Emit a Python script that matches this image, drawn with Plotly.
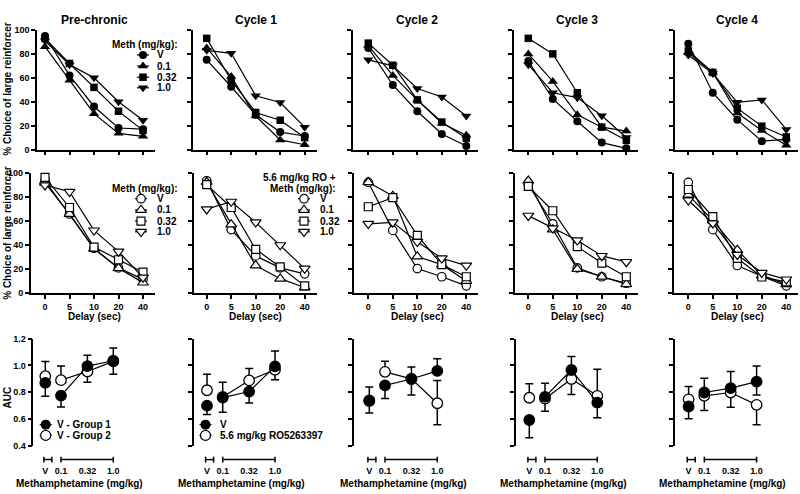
import math
import plotly.graph_objects as go

# ---------------- data ----------------
cycles = ["Pre-chronic", "Cycle 1", "Cycle 2", "Cycle 3", "Cycle 4"]
delays = ["0", "5", "10", "20", "40"]
meth_doses = ["V", "0.1", "0.32", "1.0"]
auc_doses = ["V", "0.1", "0.32", "1.0"]

# % choice of large reinforcer, methamphetamine alone (top row, filled symbols)
choice_meth_pre = {"V": [95, 62, 36, 18, 17], "0.1": [86, 58, 30, 13.5, 11],
                   "0.32": [93, 72, 52, 32, 16], "1.0": [91, 71, 60, 40, 24.5]}
choice_meth_c1 = {"V": [75, 52.5, 29, 14.6, 11.3], "0.1": [85, 61, 28, 8, 4],
                  "0.32": [93, 58, 31, 24.5, 10], "1.0": [83, 80.5, 45, 39.3, 18.7]}
choice_meth_c2 = {"V": [85, 54, 32, 13, 3], "0.1": [87, 62, 41.5, 22, 12],
                  "0.32": [89, 70.5, 41.5, 23, 9.5], "1.0": [75, 70, 51, 44, 28]}
choice_meth_c3 = {"V": [74, 42.3, 23.6, 5.8, 1], "0.1": [80, 57, 29, 18.7, 15.4],
                  "0.32": [93, 80, 47.5, 18.7, 7.7], "1.0": [71, 47.5, 43.4, 28.3, 10]}
choice_meth_c4 = {"V": [88.5, 47.5, 25, 7, 8.5], "0.1": [81, 64.5, 30.5, 16, 3.6],
                  "0.32": [82.5, 64.5, 34.6, 19.5, 10.5], "1.0": [79, 63.5, 39.5, 41.5, 16.8]}

# middle row (open symbols): group 2 pre-chronic / RO5263397 + meth
choice_ro_pre = {"V": [93.7, 66, 37.3, 21, 11.4], "0.1": [92, 66, 37, 20.7, 8.7],
                 "0.32": [96.5, 71.4, 38.4, 27.8, 17.4], "1.0": [90, 84.5, 52.3, 34.6, 13]}
choice_ro_c1 = {"V": [93.7, 53, 31, 21, 16], "0.1": [92.6, 57.2, 23, 12, 4.6],
                "0.32": [90.5, 71.4, 36.5, 21.8, 6], "1.0": [70, 76.3, 59, 40, 20.4]}
choice_ro_c2 = {"V": [92.4, 52.3, 20.4, 13.6, 6], "0.1": [92.4, 81, 30.5, 23.7, 10],
                "0.32": [72, 79.6, 48.2, 23.7, 13.6], "1.0": [57.8, 59, 42.8, 29, 22.9]}
choice_ro_c3 = {"V": [90.5, 57.8, 21, 13.6, 8.2], "0.1": [93.7, 53, 20, 13.6, 7.4],
                "0.32": [89, 68.7, 38.7, 25, 13.6], "1.0": [64.6, 54, 44, 31, 26]}
choice_ro_c4 = {"V": [92.4, 52.9, 23, 14, 6], "0.1": [82, 60.5, 36, 14.7, 7.4],
                "0.32": [86.4, 63.8, 29, 13.4, 9.3], "1.0": [77.4, 58.3, 32, 17, 11.4]}

# AUC (bottom row), one row per cycle, columns follow auc_doses
auc_filled_mean = [[0.87, 0.775, 0.995, 1.035], [0.70, 0.76, 0.805, 0.993],
                   [0.735, 0.851, 0.899, 0.959], [0.593, 0.766, 0.966, 0.723],
                   [0.694, 0.798, 0.831, 0.879]]
auc_filled_err_up = [[0, 0, 0.08, 0.095], [0, 0, 0, 0.115],
                     [0, 0, 0.089, 0.091], [0, 0.101, 0.101, 0],
                     [0, 0.106, 0.123, 0.116]]
auc_filled_err_down = [[0.10, 0.085, 0, 0], [0.065, 0.11, 0.085, 0],
                       [0.09, 0.097, 0, 0], [0.133, 0, 0, 0.113],
                       [0.092, 0, 0, 0.10]]
auc_open_mean = [[0.92, 0.89, 0.955, 1.03], [0.815, 0.765, 0.888, 0.968],
                 [0.74, 0.952, 0.90, 0.718], [0.759, 0.752, 0.899, 0.773],
                 [0.747, 0.773, 0.798, 0.706]]
auc_open_err_up = [[0.11, 0.105, 0, 0], [0.12, 0.11, 0.09, 0],
                   [0.10, 0.079, 0, 0.169], [0.104, 0, 0, 0.198],
                   [0.096, 0, 0, 0]]
auc_open_err_down = [[0, 0, 0.08, 0.095], [0, 0, 0, 0.075],
                     [0, 0, 0.121, 0.161], [0, 0.094, 0.116, 0],
                     [0, 0.11, 0.109, 0.149]]

choice_meth = [choice_meth_pre, choice_meth_c1, choice_meth_c2, choice_meth_c3, choice_meth_c4]
choice_ro = [choice_ro_pre, choice_ro_c1, choice_ro_c2, choice_ro_c3, choice_ro_c4]

# ---------------- layout geometry (pixels) ----------------
W, H = 800, 494
def fx(p): return p / W
def fy(p): return 1 - p / H

top_axis_px = [37, 193, 353, 514, 675]
mid_axis_px = [30.7, 194, 354, 515, 674]
cat_first_px = [45, 206.7, 368.3, 528.3, 688.3]
cat_step = 24.5
cat_tail = 12
bot_axis_px = [33.3, 194, 354, 515.7, 675]
bot_first_px = [61, 222.7, 385, 545, 704.3]
decade_px = 52.3
v_gap_px = 15.7
bot_tail = 15
row_px = {"top": (147.5, 25.5), "mid": (294, 171.7), "bot": (450, 340.5)}
bracket_y = 464

V_POS = -1 - v_gap_px / decade_px
dose_pos = [V_POS if d == "V" else math.log10(float(d)) for d in auc_doses]

FONT = "Liberation Sans, Arial, sans-serif"
def font(size):
    return dict(family=FONT, size=size, color="black", weight="bold")

symbols = {"V": "circle", "0.1": "triangle-up", "0.32": "square", "1.0": "triangle-down"}
msize = {"V": 8, "0.1": 9, "0.32": 7.5, "1.0": 9}

fig = go.Figure()
layout = {}
annotations = []
shapes = []

axis_common = dict(showline=True, linecolor="black", linewidth=1.5, ticks="outside",
                   ticklen=4, tickwidth=1.5, tickcolor="black", showgrid=False,
                   zeroline=False, tickfont=font(9), fixedrange=True)

n = len(delays)
for r, row in enumerate(["top", "mid", "bot"]):
    for c in range(5):
        k = r * 5 + c + 1
        xa, ya = f"xaxis{k}", f"yaxis{k}"
        yb, yt = row_px[row]
        if row in ("top", "mid"):
            ax_px = (top_axis_px if row == "top" else mid_axis_px)[c]
            first = cat_first_px[c]
            end = first + (n - 1) * cat_step + cat_tail
            layout[xa] = dict(axis_common, type="category", categoryarray=delays,
                              domain=[fx(ax_px), fx(end)], anchor=f"y{k}",
                              range=[-(first - ax_px) / cat_step, (n - 1) + cat_tail / cat_step],
                              showticklabels=(row == "mid"))
            layout[ya] = dict(axis_common, domain=[fy(yb), fy(yt)], anchor=f"x{k}",
                              range=[0, 100], tickvals=[0, 20, 40, 60, 80, 100],
                              showticklabels=(c == 0))
        else:
            ax_px = bot_axis_px[c]
            first = bot_first_px[c]
            end = first + decade_px + bot_tail
            layout[xa] = dict(axis_common, domain=[fx(ax_px), fx(end)], anchor="free",
                              position=fy(bracket_y), showline=False, ticklen=3,
                              tickcolor="rgba(0,0,0,0)",
                              range=[-1 - (first - ax_px) / decade_px, bot_tail / decade_px],
                              tickvals=dose_pos, ticktext=auc_doses)
            layout[ya] = dict(axis_common, domain=[fy(yb), fy(yt)], anchor=f"x{k}",
                              range=[0.4, 1.2], tickvals=[0.4, 0.6, 0.8, 1.0, 1.2],
                              ticktext=["0.4", "0.6", "0.8", "1.0", "1.2"],
                              showticklabels=(c == 0))

# ---------------- traces: top & middle ----------------
for c in range(5):
    for r, data, filled in ((0, choice_meth[c], True), (1, choice_ro[c], False)):
        k = r * 5 + c + 1
        for d in meth_doses:
            fig.add_trace(go.Scatter(
                x=delays, y=data[d], xaxis=f"x{k}", yaxis=f"y{k}",
                mode="lines+markers", cliponaxis=False, showlegend=False,
                line=dict(color="black", width=1.2),
                marker=dict(symbol=symbols[d], size=msize[d] + (0 if filled else 0.5),
                            color="black" if filled else "white",
                            line=dict(color="black", width=0 if filled else 1.2))))

# ---------------- traces: bottom AUC ----------------
def auc_traces(k, mean, up, dn, filled):
    mk = dict(symbol="circle", size=10.5, color="black" if filled else "white",
              line=dict(color="black", width=1.3))
    eb = lambda a, b: dict(type="data", symmetric=False, array=a, arrayminus=b,
                           color="black", thickness=1.5, width=4)
    fig.add_trace(go.Scatter(x=dose_pos[:1], y=mean[:1], xaxis=f"x{k}", yaxis=f"y{k}",
                             mode="markers", marker=mk, error_y=eb(up[:1], dn[:1]),
                             cliponaxis=False, showlegend=False))
    fig.add_trace(go.Scatter(x=dose_pos[1:], y=mean[1:], xaxis=f"x{k}", yaxis=f"y{k}",
                             mode="lines+markers", marker=mk, line=dict(color="black", width=1.2),
                             error_y=eb(up[1:], dn[1:]), cliponaxis=False, showlegend=False))

for c in range(5):
    k = 10 + c + 1
    auc_traces(k, auc_open_mean[c], auc_open_err_up[c], auc_open_err_down[c], False)
    auc_traces(k, auc_filled_mean[c], auc_filled_err_up[c], auc_filled_err_down[c], True)
    # broken x-axis brackets
    segs = [(dose_pos[0] - 1.4 / decade_px, dose_pos[0] + 6.6 / decade_px),
            (dose_pos[1], dose_pos[-1])]
    for x0, x1 in segs:
        shapes.append(dict(type="line", xref=f"x{k}", yref="paper", x0=x0, x1=x1,
                           y0=fy(bracket_y), y1=fy(bracket_y), line=dict(color="black", width=1.5)))
        for xe in (x0, x1):
            shapes.append(dict(type="line", xref=f"x{k}", yref="paper", x0=xe, x1=xe,
                               y0=fy(bracket_y - 3), y1=fy(bracket_y + 3),
                               line=dict(color="black", width=1.5)))
    annotations.append(dict(text="Methamphetamine (mg/kg)", xref=f"x{k}", yref="paper",
                            x=(dose_pos[0] + dose_pos[-1]) / 2, y=fy(488), showarrow=False,
                            xanchor="center", yanchor="middle", font=font(10)))

# ---------------- titles ----------------
for c, name in enumerate(cycles):
    annotations.append(dict(text=name, xref=f"x{c + 1}", yref="paper", x=2, y=fy(15.7),
                            showarrow=False, xanchor="center", yanchor="middle", font=font(12)))
    annotations.append(dict(text="Delay (sec)", xref=f"x{5 + c + 1}", yref="paper", x=2, y=fy(318),
                            showarrow=False, xanchor="center", yanchor="middle", font=font(10)))

for ytxt, ypx in (("% Choice of large reinforcer", 86), ("% Choice of large reinforcer", 233),
                  ("AUC", 401)):
    annotations.append(dict(text=ytxt, xref="paper", yref="paper", x=fx(7.5), y=fy(ypx),
                            textangle=-90, showarrow=False, xanchor="center", yanchor="middle",
                            font=font(10)))

# ---------------- manual legends ----------------
layout["xaxis16"] = dict(domain=[0, 1], range=[0, W], visible=False, fixedrange=True, anchor="y16")
layout["yaxis16"] = dict(domain=[0, 1], range=[H, 0], visible=False, fixedrange=True, anchor="x16")

def text_at(txt, xp, yp, anchor="left"):
    annotations.append(dict(text=txt, xref="paper", yref="paper", x=fx(xp), y=fy(yp),
                            showarrow=False, xanchor=anchor, yanchor="middle", font=font(10)))

def key(xm, yp, symbol, size, filled, half=6):
    fig.add_trace(go.Scatter(x=[xm - half, xm + half], y=[yp, yp], xaxis="x16", yaxis="y16",
                             mode="lines", line=dict(color="black", width=1.2),
                             showlegend=False, hoverinfo="skip"))
    fig.add_trace(go.Scatter(x=[xm], y=[yp], xaxis="x16", yaxis="y16", mode="markers",
                             marker=dict(symbol=symbol, size=size,
                                         color="black" if filled else "white",
                                         line=dict(color="black", width=0 if filled else 1.2)),
                             showlegend=False, hoverinfo="skip"))

leg_rows_top = [51, 62.3, 73.7, 84.5]
leg_rows_mid = [197.7, 209.2, 220.5, 231.5]
text_at("Meth (mg/kg):", 110, 40.7)
for d, yp in zip(meth_doses, leg_rows_top):
    key(143, yp, symbols[d], msize[d], True)
    text_at(d, 155, yp)
text_at("Meth (mg/kg):", 110, 187.3)
for d, yp in zip(meth_doses, leg_rows_mid):
    key(141, yp, symbols[d], msize[d] + 0.5, False)
    text_at(d, 155, yp)
text_at("5.6 mg/kg RO +", 338, 176, "right")
text_at("Meth (mg/kg):", 338, 187.3, "right")
for d, yp in zip(meth_doses, leg_rows_mid):
    key(304, yp, symbols[d], msize[d] + 0.5, False)
    text_at(d, 318, yp)

auc_legend_pre = ["V - Group 1", "V - Group 2"]
auc_legend_cyc = ["V", "5.6 mg/kg RO5263397"]
for labels, xm, xt in ((auc_legend_pre, 45.7, 55), (auc_legend_cyc, 205.5, 218)):
    for lab, yp, filled in zip(labels, (428.3, 439.3), (True, False)):
        key(xm, yp, "circle", 10, filled)
        text_at(lab, xt, yp)

fig.update_layout(width=W, height=H, margin=dict(l=0, r=0, t=0, b=0),
                  paper_bgcolor="white", plot_bgcolor="rgba(0,0,0,0)",
                  showlegend=False, annotations=annotations, shapes=shapes, **layout)
fig.write_html("out.html", config={"displayModeBar": False},
               post_script="document.body.style.margin='0px';document.body.style.overflow='hidden';")
